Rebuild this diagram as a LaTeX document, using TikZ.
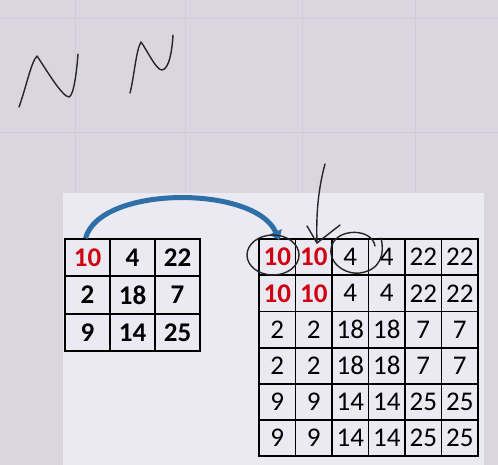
\documentclass[tikz,border=0pt]{standalone}
\usepackage{fontspec}
\setmainfont{Carlito}
\usetikzlibrary{arrows.meta}
\definecolor{bgouter}{HTML}{D9D6E0}
\definecolor{bgline}{HTML}{CFCCD7}
\definecolor{panel}{HTML}{EBE9F1}
\definecolor{redval}{HTML}{D00010}
\definecolor{arrowblue}{HTML}{2F6FA8}
\begin{document}
\begin{tikzpicture}[x=1pt,y=-1pt,
  cellA/.style={draw=black,line width=1.8pt,minimum width=45pt,minimum height=37pt,inner sep=0pt,font=\fontsize{27}{27}\selectfont\bfseries},
  cellB/.style={draw=black,line width=1.8pt,minimum width=36.5pt,minimum height=36.2pt,inner sep=0pt,font=\fontsize{27}{27}\selectfont},
  redb/.style={text=redval,font=\fontsize{27}{27}\selectfont\bfseries},
  hand/.style={line width=1.4pt,black!85,line cap=round,line join=round}]
\useasboundingbox (0,0) rectangle (498,465);
\fill[bgouter] (0,0) rectangle (498,465);
\foreach \x in {75,185,302,415} \draw[bgline,line width=0.8pt] (\x,0) -- (\x,465);
\foreach \y in {18,132} \draw[bgline,line width=0.8pt] (0,\y) -- (498,\y);
\fill[panel] (63,193) rectangle (484,465);
% left grid
\foreach [count=\r] \row in {{10,4,22},{2,18,7},{9,14,25}}{
  \foreach [count=\c] \v in \row {
    \ifnum\r\c=11
      \node[cellA,text=redval] (a\r\c) at ({65+45*(\c-0.5)},{239+37.3*(\r-0.5)}) {\v};
    \else
      \node[cellA] (a\r\c) at ({65+45*(\c-0.5)},{239+37.3*(\r-0.5)}) {\v};
    \fi
  }
}
% right grid
\foreach [count=\r] \row in {{10,10,4,4,22,22},{10,10,4,4,22,22},{2,2,18,18,7,7},{2,2,18,18,7,7},{9,9,14,14,25,25},{9,9,14,14,25,25}}{
  \foreach [count=\c] \v in \row {
    \ifnum\v=10
      \node[cellB,redb] (b\r\c) at ({259+36.5*(\c-0.5)},{239+36.2*(\r-0.5)}) {\v};
    \else
      \node[cellB] (b\r\c) at ({259+36.5*(\c-0.5)},{239+36.2*(\r-0.5)}) {\v};
    \fi
  }
}
% blue arrow
\draw[arrowblue,line width=5pt,-{Triangle[length=9pt,width=13pt]}] ([xshift=-2pt]a11.north) .. controls (100,185) and (255,185) .. ([xshift=2pt,yshift=-2pt]b11.north);
% handwriting
\draw[hand] (19,107) .. controls (26,88) and (31,62) .. (37,56) .. controls (44,66) and (62,97) .. (69,97) .. controls (74,96) and (77,68) .. (78,54);
\draw[hand] (130,93) .. controls (134,78) and (136,50) .. (141,42) .. controls (147,50) and (156,70) .. (162,70) .. controls (169,69) and (172,52) .. (173,35);
\coordinate (vtop) at (325,164);
\coordinate (vtip) at (317,243);
\draw[hand] (vtop) .. controls (318,190) and (316,215) .. (vtip);
\draw[hand] (307,226) -- (vtip) -- (340,225);
\draw[hand] (273,255) ellipse [x radius=26pt,y radius=20pt];
\draw[hand] (375,246) .. controls (372,228) and (338,228) .. (332,245) .. controls (326,262) and (345,275) .. (360,273) .. controls (380,270) and (385,255) .. (381,238);
\end{tikzpicture}
\end{document}
